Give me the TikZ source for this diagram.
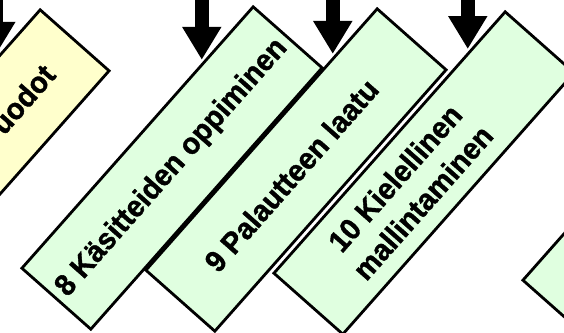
\documentclass[tikz,border=0pt]{standalone}
\usepackage{fontspec}
\setmainfont{Liberation Sans}[FakeStretch=0.96,FakeBold=1.2]
\usetikzlibrary{calc,arrows.meta}
\definecolor{lgreen}{RGB}{224,255,224}
\definecolor{lyellow}{RGB}{255,255,204}
\tikzset{
  stage/.style={draw=black,line width=2.8pt,fill=lgreen,rotate=48.5,
    minimum width=349pt,minimum height=92pt,inner sep=0pt,align=center,
    font=\fontsize{30}{37}\selectfont\bfseries},
  feed/.style={line width=14pt,-{Triangle[width=37pt,length=33pt]}}
}

\begin{document}
\begin{tikzpicture}[x=1pt,y=-1pt]
  \useasboundingbox (0,0) rectangle (564,332);
  \clip (0,0) rectangle (564,332);
  \coordinate (top) at (0,-20);
  \node[stage,fill=lyellow,text width=272pt,align=right] (B7) at (-41,171) {uodot};
  \node[stage] (B8) at (172,168) {8 Käsitteiden oppiminen};
  \node[stage] (B9) at (296,170) {9 Palautteen laatu\hspace*{14pt}};
  \node[stage] (B10) at (424,173)
    {10 Kielellinen\hspace*{46pt}\\mallintaminen\hspace*{46pt}};
  \node[stage] (B11) at (673,180) {};
  % arrows
  \foreach \b/\t in {B7/.81,B8/.78,B9/.81,B10/.84}{
    \coordinate (\b-in) at ($(\b.north west)!\t!(\b.north east)$);
    \draw[feed,shorten >=3pt] (\b-in |- top) -- (\b-in);
  }
\end{tikzpicture}
\end{document}
